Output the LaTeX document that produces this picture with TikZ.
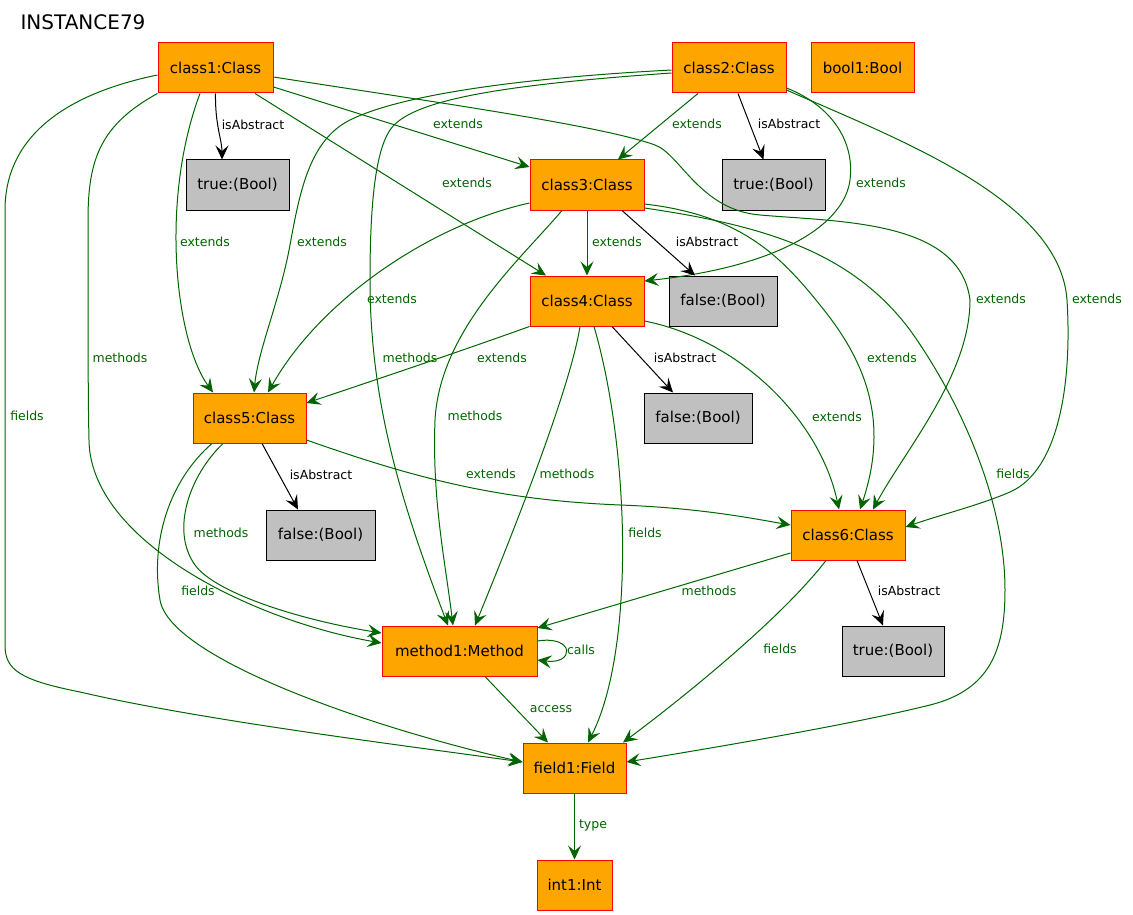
\documentclass[tikz,border=0pt]{standalone}
\usepackage{fontspec}
\setmainfont{DejaVu Sans}
\usepackage{tikz}
\usetikzlibrary{arrows.meta}
\definecolor{edgegreen}{HTML}{006400}
\definecolor{boxorange}{HTML}{FFA500}
\definecolor{boxred}{HTML}{FF0000}
\definecolor{boolgray}{HTML}{C0C0C0}
\tikzstyle{cls} = [
	draw = boxred,
	fill = boxorange,
	line width = 1pt,
	minimum height = 50pt,
	inner sep = 0pt,
	font = \fontsize{15}{18}\selectfont
]
\tikzstyle{val} = [
	draw = black,
	fill = boolgray,
	line width = 1pt,
	minimum height = 50pt,
	inner sep = 0pt,
	font = \fontsize{15}{18}\selectfont
]
\tikzstyle{rel} = [draw = edgegreen, line width = 1pt, ->]
\tikzstyle{isa} = [draw = black, line width = 1pt, ->]
\tikzstyle{lbl} = [text = edgegreen, inner sep = 0pt, font = \fontsize{12.5}{15}\selectfont]
\tikzstyle{lblk} = [lbl, text = black]

\begin{document}
\begin{tikzpicture}[x=1pt, y=-1pt, >={Stealth[length=14pt, width=13pt, inset=5.5pt]}]
	\useasboundingbox (0,0) rectangle (1133,915);
	\node [anchor=west, font=\fontsize{20}{24}\selectfont] (title) at (17,22) {INSTANCE79};

	\node [cls, minimum width=115pt] (class1) at (215.5,68) {class1:Class};
	\node [cls, minimum width=114pt] (class2) at (729,68) {class2:Class};
	\node [cls, minimum width=103pt] (bool1) at (862.5,68) {bool1:Bool};
	\node [val, minimum width=103pt] (t1) at (237.5,185) {true:(Bool)};
	\node [cls, minimum width=114pt] (class3) at (587,185) {class3:Class};
	\node [val, minimum width=103pt] (t2) at (773.5,185) {true:(Bool)};
	\node [cls, minimum width=114pt] (class4) at (587,301) {class4:Class};
	\node [val, minimum width=108pt] (f3) at (723,301) {false:(Bool)};
	\node [cls, minimum width=113pt] (class5) at (249.5,418) {class5:Class};
	\node [val, minimum width=108pt] (f4) at (698,418) {false:(Bool)};
	\node [val, minimum width=109pt] (f5) at (320.5,535) {false:(Bool)};
	\node [cls, minimum width=114pt] (class6) at (848,535) {class6:Class};
	\node [cls, minimum width=155pt] (method1) at (459.5,651) {method1:Method};
	\node [val, minimum width=102pt] (t6) at (893,651) {true:(Bool)};
	\node [cls, minimum width=103pt] (field1) at (574.5,768) {field1:Field};
	\node [cls, minimum width=75pt] (int1) at (574.5,885) {int1:Int};

	% class1
	\draw[isa] (class1.south) .. controls (215,125) and (222,140) .. ([xshift=-15.5pt]t1.north) node[lblk] at (253,125) {isAbstract};
	\draw[rel] ([yshift=-19pt]class1.east) -- ([yshift=18pt]class3.west) node[lbl] at (458,124) {extends};
	\draw[rel] ([xshift=39.5pt]class1.south) -- ([xshift=-41pt]class4.north) node[lbl] at (467,183) {extends};
	\draw[rel] ([yshift=-9pt]class1.east) .. controls (420,100) and (600,125) .. (655,145) .. controls (680,154) and (700,210) .. (760,215) .. controls (840,222) and (960,220) .. (970,300) .. controls (970,375) and (905,450) .. ([xshift=25pt]class6.north) node[lbl] at (1001,299) {extends};
	\draw[rel] ([xshift=-15.5pt]class1.south) .. controls (160,200) and (175,340) .. ([xshift=-36.5pt]class5.north) node[lbl] at (205,242) {extends};
	\draw[rel] (class1.south west) .. controls (100,125) and (88,160) .. (88,220) .. controls (88,330) and (88,400) .. (89,440) .. controls (90,540) and (250,620) .. ([yshift=8pt]method1.west) node[lbl] at (120,358) {methods};
	\draw[rel] ([yshift=-7pt]class1.west) .. controls (60,95) and (5,140) .. (5,210) -- (5,645) .. controls (5,670) and (20,680) .. (80,692) .. controls (200,720) and (400,745) .. ([yshift=6pt]field1.west) node[lbl] at (27,416) {fields};

	% class2
	\draw[rel] ([xshift=-31pt]class2.south) -- ([xshift=31pt]class3.north) node[lbl] at (697,124) {extends};
	\draw[isa] ([xshift=9pt]class2.south) -- ([xshift=-10pt]t2.north) node[lblk] at (789,124) {isAbstract};
	\draw[rel] ([yshift=-2pt]class2.west) .. controls (520,78) and (400,95) .. (350,120) .. controls (310,140) and (300,190) .. (290,245) .. controls (280,300) and (258,350) .. ([xshift=4.5pt]class5.north) node[lbl] at (322,242) {extends};
	\draw[rel] ([yshift=-5pt]class2.west) .. controls (500,85) and (410,100) .. (390,130) .. controls (376,151) and (370,200) .. (370,280) .. controls (370,400) and (400,500) .. ([xshift=-11.5pt]method1.north) node[lbl] at (410,358) {methods};
	\draw[rel] ([yshift=-20pt]class2.east) .. controls (830,105) and (855,140) .. (850,180) .. controls (845,220) and (790,265) .. ([yshift=20pt]class4.east) node[lbl] at (881,183) {extends};
	\draw[rel] ([yshift=-22pt]class2.east) .. controls (900,140) and (1060,200) .. (1067,300) .. controls (1072,380) and (1060,470) .. (1010,492) .. controls (980,505) and (940,515) .. ([yshift=8pt]class6.east) node[lbl] at (1097,299) {extends};

	% class3
	\draw[rel] (class3.south) -- (class4.north) node[lbl] at (617,242) {extends};
	\draw[isa] ([xshift=35pt]class3.south) -- ([xshift=-28pt]f3.north) node[lblk] at (707,242) {isAbstract};
	\draw[rel] ([yshift=-18pt]class3.west) .. controls (430,225) and (320,300) .. ([xshift=18.5pt]class5.north) node[lbl] at (392,299) {extends};
	\draw[rel] ([xshift=-25pt]class3.south) .. controls (520,260) and (440,330) .. (435,420) .. controls (432,500) and (445,560) .. ([xshift=-6.5pt]method1.north) node[lbl] at (475,416) {methods};
	\draw[rel] ([yshift=-19pt]class3.east) .. controls (740,215) and (780,255) .. (820,305) .. controls (865,360) and (890,420) .. ([xshift=12pt]class6.north) node[lbl] at (892,358) {extends};
	\draw[rel] ([yshift=-23pt]class3.east) .. controls (760,225) and (850,250) .. (910,330) .. controls (960,400) and (1005,500) .. (1005,590) .. controls (1005,650) and (990,690) .. (930,705) .. controls (850,725) and (700,750) .. ([yshift=6pt]field1.east) node[lbl] at (1013,474) {fields};

	% class4
	\draw[isa] ([xshift=25pt]class4.south) -- ([xshift=-25pt]f4.north) node[lblk] at (685,358) {isAbstract};
	\draw[rel] (class4.south west) .. controls (450,355) and (360,385) .. ([yshift=15pt]class5.east) node[lbl] at (502,358) {extends};
	\draw[rel] ([xshift=-7pt]class4.south) .. controls (570,390) and (510,540) .. ([xshift=15.5pt]method1.north) node[lbl] at (567,474) {methods};
	\draw[rel] ([xshift=7pt]class4.south) .. controls (630,450) and (635,650) .. ([xshift=13.5pt]field1.north) node[lbl] at (645,533) {fields};
	\draw[rel] ([yshift=-20pt]class4.east) .. controls (740,340) and (820,420) .. ([xshift=-9pt]class6.north) node[lbl] at (837,417) {extends};

	% class5
	\draw[isa] ([xshift=12.5pt]class5.south) -- ([xshift=-22.5pt]f5.north) node[lblk] at (321,475) {isAbstract};
	\draw[rel] ([yshift=-22pt]class5.east) .. controls (420,480) and (500,500) .. (620,505) .. controls (700,508) and (750,518) .. ([yshift=10pt]class6.west) node[lbl] at (491,474) {extends};
	\draw[rel] ([xshift=-26.5pt]class5.south) .. controls (190,475) and (170,530) .. (195,565) .. controls (215,593) and (300,620) .. ([yshift=18pt]method1.west) node[lbl] at (221,533) {methods};
	\draw[rel] ([xshift=-37.5pt]class5.south) .. controls (170,480) and (150,540) .. (160,600) .. controls (170,660) and (380,730) .. ([yshift=6pt]field1.west) node[lbl] at (198,591) {fields};

	% class6
	\draw[isa] ([xshift=9pt]class6.south) -- ([xshift=-10pt]t6.north) node[lblk] at (909,591) {isAbstract};
	\draw[rel] ([yshift=-18pt]class6.west) -- ([yshift=23pt]method1.east) node[lbl] at (709,591) {methods};
	\draw[rel] ([xshift=-22pt]class6.south) .. controls (780,620) and (680,700) .. ([xshift=48.5pt]field1.north) node[lbl] at (780,649) {fields};

	% method1, field1
	\draw[rel] ([yshift=10pt]method1.east) .. controls (575,635) and (575,665) .. ([yshift=-9pt]method1.east) node[lbl] at (581,650) {calls};
	\draw[rel] ([xshift=25.5pt]method1.south) -- ([xshift=-26.5pt]field1.north) node[lbl] at (551,709) {access};
	\draw[rel] (field1.south) -- (int1.north) node[lbl] at (593,825) {type};
\end{tikzpicture}
\end{document}
